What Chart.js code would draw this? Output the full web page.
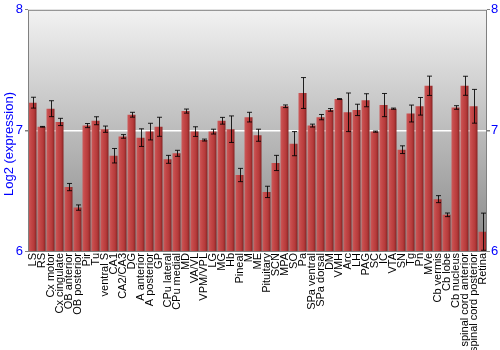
<!DOCTYPE html>
<html>
<head>
<meta charset="utf-8">
<script src="https://cdn.jsdelivr.net/npm/chart.js@4/dist/chart.umd.min.js"></script>
<style>
	body { margin: 0; background: #fff; }
	#wrap { width: 500px; height: 350px; }
</style>
</head>
<body>
<div id="wrap"><canvas id="expr" width="500" height="350"></canvas></div>
<script>
const regions = [
	'LS', 'RS', 'Cx motor', 'Cx cingulate', 'OB anterior', 'OB posterior', 'Pir', 'Tu',
	'ventral S', 'CA1', 'CA2/CA3', 'DG', 'A anterior', 'A posterior', 'GP', 'CPu lateral',
	'CPu medial', 'MD', 'VA/VL', 'VPM/VPL', 'LG', 'MG', 'Hb', 'Pineal', 'M', 'ME',
	'Pituitary', 'SCN', 'MPA', 'SO', 'Pa', 'SPa ventral', 'SPa dorsal', 'DM', 'VMH', 'Arc',
	'LH', 'PAG', 'SC', 'IC', 'VTA', 'SN', 'Tg', 'Pn', 'MVe', 'Cb vermis', 'Cb lobe',
	'Cb nucleus', 'spinal cord anterior', 'spinal cord posterior', 'Retina'
]

const expression = [
	7.23, 7.03, 7.18, 7.07, 6.53, 6.36, 7.04, 7.08,
	7.01, 6.79, 6.95, 7.13, 6.94, 6.99, 7.03, 6.76,
	6.81, 7.16, 6.99, 6.92, 6.99, 7.08, 7.01, 6.63, 7.11, 6.96,
	6.49, 6.73, 7.20, 6.89, 7.31, 7.04, 7.11, 7.17, 7.26, 7.15,
	7.17, 7.25, 6.99, 7.21, 7.18, 6.84, 7.14, 7.20, 7.37, 6.43, 6.30,
	7.19, 7.37, 7.20, 6.16
]

const errors = [
	0.045, 0.003, 0.066, 0.03, 0.03, 0.022, 0.017, 0.033,
	0.026, 0.06, 0.015, 0.02, 0.073, 0.069, 0.079, 0.033,
	0.025, 0.017, 0.04, 0.008, 0.02, 0.028, 0.11, 0.055, 0.04, 0.05,
	0.047, 0.063, 0.011, 0.10, 0.128, 0.012, 0.022, 0.011, 0.004, 0.16,
	0.047, 0.054, 0.005, 0.096, 0.005, 0.032, 0.07, 0.073, 0.08, 0.029, 0.015,
	0.015, 0.079, 0.14, 0.154
]

const yTicks = [6, 7, 8]

const blue = '#0000ff'
const frameColor = '#808080'
const font = '"Liberation Sans", Arial, sans-serif'
const barShare = 0.89

// grey shaded plot area and frame
const plotBackground = {
	id: 'plotBackground',
	beforeDraw(chart) {
		const {ctx, chartArea: a} = chart
		const g = ctx.createLinearGradient(0, a.top, 0, a.bottom)
		g.addColorStop(0, '#f2f2f2')
		g.addColorStop(0.5, '#bcbcbc')
		g.addColorStop(1, '#888888')
		ctx.save()
		ctx.fillStyle = g
		ctx.fillRect(a.left, a.top, a.right - a.left, a.bottom - a.top)
		ctx.restore()
	},
	afterDraw(chart) {
		const {ctx, chartArea: a} = chart
		ctx.save()
		ctx.strokeStyle = frameColor
		ctx.lineWidth = 1
		ctx.strokeRect(a.left + 0.5, a.top + 0.5, a.right - a.left - 1, a.bottom - a.top)
		// axis title
		ctx.fillStyle = blue
		ctx.font = '13px ' + font
		ctx.textAlign = 'center'
		ctx.textBaseline = 'middle'
		ctx.translate(9, 144)
		ctx.rotate(-Math.PI / 2)
		ctx.fillText('Log2 (expression)', 0, 0)
		ctx.restore()
	}
}

const errorBars = {
	id: 'errorBars',
	afterDatasetsDraw(chart) {
		const {ctx} = chart
		const y = chart.scales.y
		const meta = chart.getDatasetMeta(0)
		ctx.save()
		ctx.strokeStyle = 'rgba(0,0,0,0.85)'
		ctx.lineWidth = 1
		meta.data.forEach((bar, i) => {
			const x = Math.round(bar.x) + 0.5
			const top = y.getPixelForValue(expression[i] + errors[i])
			const bot = y.getPixelForValue(expression[i] - errors[i])
			ctx.beginPath()
			ctx.moveTo(x, top)
			ctx.lineTo(x, bot)
			ctx.moveTo(x - 2.5, top)
			ctx.lineTo(x + 2.5, top)
			ctx.moveTo(x - 2.5, bot)
			ctx.lineTo(x + 2.5, bot)
			ctx.stroke()
		})
		ctx.restore()
	}
}

function barFill(context) {
	const chart = context.chart
	const xs = chart.scales.x
	if (!xs || context.type !== 'data') return '#bb3c3c'
	const cx = xs.getPixelForValue(context.dataIndex)
	const w = xs.width / regions.length * barShare
	if (!Number.isFinite(cx) || !Number.isFinite(w) || w <= 0) return '#bb3c3c'
	const g = chart.ctx.createLinearGradient(cx - w / 2, 0, cx + w / 2, 0)
	g.addColorStop(0, '#cc5a5a')
	g.addColorStop(0.3, '#c44848')
	g.addColorStop(0.7, '#b53a3a')
	g.addColorStop(1, '#862222')
	return g
}

const yAxis = (side, width, pad) => ({
	position: side,
	min: 6,
	max: 8,
	afterBuildTicks(scale) {
		scale.ticks = yTicks.map((v) => ({value: v}))
	},
	afterFit(scale) {
		scale.width = width
	},
	border: {display: false},
	grid: {
		drawOnChartArea: side === 'left',
		color: (c) => c.tick && c.tick.value === 7 ? '#ffffff' : 'rgba(0,0,0,0)',
		lineWidth: (c) => c.tick && c.tick.value === 7 ? 1.5 : 1,
		tickColor: frameColor,
		tickLength: 3
	},
	ticks: {
		color: blue,
		padding: pad,
		font: {family: font, size: 13}
	}
})

new Chart('expr', {
	type: 'bar',
	data: {
		labels: regions,
		datasets: [
			{
				label: 'Log2 (expression)',
				data: expression,
				backgroundColor: barFill,
				borderWidth: 0,
				barPercentage: barShare,
				categoryPercentage: 1
			}
		]
	},
	options: {
		responsive: false,
		animation: false,
		layout: {padding: {top: 9, left: 0, right: 0, bottom: 0}},
		plugins: {
			legend: {display: false},
			tooltip: {enabled: false}
		},
		scales: {
			x: {
				afterFit(scale) {
					scale.height = 99
				},
				border: {display: false},
				grid: {display: false, drawTicks: false},
				ticks: {
					autoSkip: false,
					maxRotation: 90,
					minRotation: 90,
					padding: 2,
					color: '#000',
					font: {family: font, size: 11}
				}
			},
			y: yAxis('left', 28, 2),
			y2: yAxis('right', 13, 1)
		}
	},
	plugins: [plotBackground, errorBars]
})
</script>
</body>
</html>
